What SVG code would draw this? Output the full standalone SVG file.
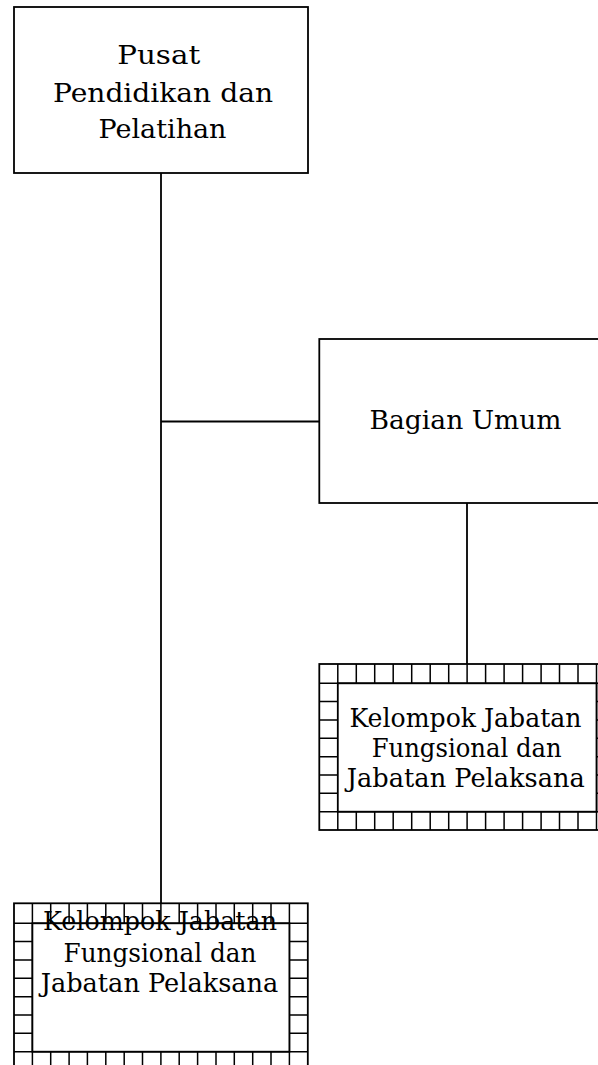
<svg xmlns="http://www.w3.org/2000/svg" width="598" height="1065" viewBox="0 0 598 1065">
<style>
.box{fill:#fff;stroke:#000;stroke-width:1.8}
.grid{fill:none;stroke:#000;stroke-width:1.5}
.conn{fill:none;stroke:#000;stroke-width:1.8}
text{font-family:"DejaVu Serif","Liberation Serif",serif;font-size:25.5px;fill:#000;text-anchor:middle}
</style>
<rect width="598" height="1065" fill="#fff"/>
<g id="connectors">
<path class="conn" d="M161 173 V923.3 M161 421.5 H319.3 M467 503 V664"/>
</g>
<g id="pusat">
<rect class="box" x="14" y="7" width="294" height="166"/>
<text x="158.7" y="64.3" textLength="83" lengthAdjust="spacingAndGlyphs">Pusat</text>
<text x="163" y="101.5" textLength="220" lengthAdjust="spacingAndGlyphs">Pendidikan dan</text>
<text x="162.5" y="138" textLength="128" lengthAdjust="spacingAndGlyphs">Pelatihan</text>
</g>
<g id="bagian-umum">
<rect class="box" x="319.3" y="339" width="294" height="164"/>
<text x="465.5" y="429.3" textLength="192" lengthAdjust="spacingAndGlyphs">Bagian Umum</text>
</g>
<g id="kelompok-kanan">
<rect class="box" x="319.3" y="664" width="295.7" height="166"/>
<path class="grid" d="M337.8 664V830M356.3 664V830M374.7 664V830M393.2 664V830M411.7 664V830M430.2 664V830M448.7 664V830M467.1 664V830M485.6 664V830M504.1 664V830M522.6 664V830M541.1 664V830M559.5 664V830M578 664V830M596.5 664V830M319.3 683.3H615M319.3 701.6H615M319.3 720H615M319.3 738.3H615M319.3 756.7H615M319.3 775H615M319.3 793.3H615M319.3 811.7H615"/>
<rect class="box" x="337.8" y="683.3" width="258.7" height="128.4"/>
<text x="465.5" y="726.7" textLength="232" lengthAdjust="spacingAndGlyphs">Kelompok Jabatan</text>
<text x="466.7" y="756.7" textLength="190" lengthAdjust="spacingAndGlyphs">Fungsional dan</text>
<text x="465.8" y="787.3" textLength="238" lengthAdjust="spacingAndGlyphs">Jabatan Pelaksana</text>
</g>
<g id="kelompok-kiri">
<rect class="box" x="14" y="903.3" width="293.8" height="166.7"/>
<path class="grid" d="M32.4 903.3V1070M50.7 903.3V1070M69.1 903.3V1070M87.4 903.3V1070M105.8 903.3V1070M124.2 903.3V1070M142.5 903.3V1070M160.9 903.3V1070M179.2 903.3V1070M197.6 903.3V1070M216 903.3V1070M234.3 903.3V1070M252.7 903.3V1070M271 903.3V1070M289.4 903.3V1070M14 923.3H307.8M14 941.6H307.8M14 960H307.8M14 978.3H307.8M14 996.7H307.8M14 1015H307.8M14 1033.3H307.8M14 1051.7H307.8"/>
<rect class="box" x="32.4" y="923.3" width="257" height="128.4"/>
<text x="160" y="930" textLength="234" lengthAdjust="spacingAndGlyphs">Kelompok Jabatan</text>
<text x="160" y="961.5" textLength="193" lengthAdjust="spacingAndGlyphs">Fungsional dan</text>
<text x="159.5" y="991.7" textLength="237.6" lengthAdjust="spacingAndGlyphs">Jabatan Pelaksana</text>
</g>
</svg>
